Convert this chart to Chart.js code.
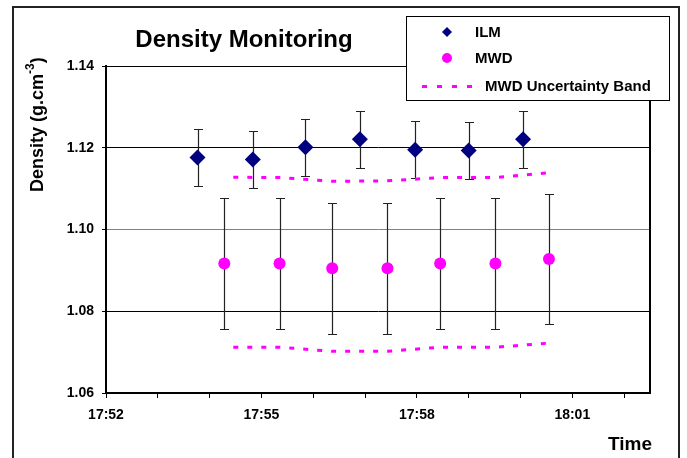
<!DOCTYPE html>
<html>
<head>
<meta charset="utf-8">
<script src="https://cdn.jsdelivr.net/npm/chart.js@4/dist/chart.umd.min.js"></script>
<style>
  body { margin: 0; background: #fff; }
  canvas { display: block; }
</style>
</head>
<body>
<canvas id="densityChart" width="687" height="458"></canvas>
<script>
// readings (times)
var ilmTimes = ['17:53:46', '17:54:50', '17:55:51', '17:56:54', '17:57:58', '17:59:00', '18:00:03'];
var ilmDensity = [1.1176, 1.1171, 1.1201, 1.1221, 1.1195, 1.1193, 1.1221];
var ilmError = [0.007, 0.007, 0.007, 0.007, 0.007, 0.007, 0.007];

var mwdTimes = ['17:54:17', '17:55:21', '17:56:22', '17:57:26', '17:58:27', '17:59:31', '18:00:33'];
var mwdDensity = [1.0917, 1.0917, 1.0905, 1.0905, 1.0917, 1.0917, 1.0928];
var mwdError = [0.016, 0.016, 0.016, 0.016, 0.016, 0.016, 0.016];

var bandUpper = [1.1128, 1.1127, 1.1118, 1.1119, 1.1127, 1.1127, 1.1139];
var bandLower = [1.0712, 1.0712, 1.0702, 1.0702, 1.0712, 1.0712, 1.0722];

var yTicks = [1.06, 1.08, 1.10, 1.12, 1.14];
var xStart = '17:52', xEnd = '18:02:30';

var FONT = '"Liberation Sans", Arial, sans-serif';
var NAVY = '#000080', MAGENTA = '#ff00ff';

function toMinutes(t) {
    var p = t.split(':');
    return +p[0] * 60 + +p[1] + (p[2] ? +p[2] / 60 : 0);
}
function fmtTime(m) {
    var h = Math.floor(m / 60), mm = Math.round(m - h * 60);
    return h + ':' + (mm < 10 ? '0' : '') + mm;
}
function pts(times, vals) {
    return times.map(function(t, i) { return { x: toMinutes(t), y: vals[i] }; });
}

var errorBars = {
    id: 'errorBars',
    beforeDatasetsDraw: function(chart) {
        var ctx = chart.ctx, xs = chart.scales.x, ys = chart.scales.y;
        var sets = [[ilmTimes, ilmDensity, ilmError], [mwdTimes, mwdDensity, mwdError]];
        ctx.save();
        ctx.strokeStyle = '#222';
        ctx.lineWidth = 1.2;
        sets.forEach(function(s) {
            s[0].forEach(function(t, i) {
                var x = Math.round(xs.getPixelForValue(toMinutes(t))) + 0.5;
                var top = Math.round(ys.getPixelForValue(s[1][i] + s[2][i])) + 0.5;
                var bot = Math.round(ys.getPixelForValue(s[1][i] - s[2][i])) + 0.5;
                ctx.beginPath();
                ctx.moveTo(x, top); ctx.lineTo(x, bot);
                ctx.moveTo(x - 4.5, top); ctx.lineTo(x + 4.5, top);
                ctx.moveTo(x - 4.5, bot); ctx.lineTo(x + 4.5, bot);
                ctx.stroke();
            });
        });
        ctx.restore();
    }
};

var decorations = {
    id: 'decorations',
    beforeDraw: function(chart) {
        var ctx = chart.ctx;
        ctx.save();
        ctx.fillStyle = '#fff';
        ctx.fillRect(0, 0, chart.width, chart.height);
        ctx.restore();
    },
    afterDraw: function(chart) {
        var ctx = chart.ctx, a = chart.chartArea;
        ctx.save();
        // plot area border (top, right)
        ctx.strokeStyle = '#000';
        ctx.lineWidth = 1;
        ctx.beginPath();
        ctx.moveTo(a.left, a.top + 0.5); ctx.lineTo(a.right, a.top + 0.5);
        ctx.stroke();
        ctx.lineWidth = 2;
        ctx.beginPath();
        ctx.moveTo(a.right, a.top); ctx.lineTo(a.right, a.bottom);
        ctx.stroke();

        // outer frame
        ctx.strokeStyle = '#222';
        ctx.lineWidth = 2;
        ctx.strokeRect(13, 7, 666, 470);

        // title
        ctx.fillStyle = '#000';
        ctx.font = 'bold 24px ' + FONT;
        ctx.textAlign = 'center';
        ctx.textBaseline = 'alphabetic';
        ctx.fillText('Density Monitoring', 244, 47);

        // x title
        ctx.font = 'bold 19px ' + FONT;
        ctx.textAlign = 'right';
        ctx.fillText('Time', 652, 450);

        // y title with superscript
        ctx.save();
        ctx.translate(43, 192);
        ctx.rotate(-Math.PI / 2);
        ctx.textAlign = 'left';
        ctx.font = 'bold 18px ' + FONT;
        var s1 = 'Density (g.cm';
        ctx.fillText(s1, 0, 0);
        var w = ctx.measureText(s1).width;
        ctx.font = 'bold 12px ' + FONT;
        ctx.fillText('-3', w, -9);
        w += ctx.measureText('-3').width;
        ctx.font = 'bold 18px ' + FONT;
        ctx.fillText(')', w, 0);
        ctx.restore();

        // legend
        ctx.fillStyle = '#fff';
        ctx.fillRect(406, 16, 263, 84);
        ctx.strokeStyle = '#000';
        ctx.lineWidth = 1;
        ctx.strokeRect(406.5, 16.5, 263, 84);
        ctx.fillStyle = NAVY;
        ctx.beginPath();
        ctx.moveTo(447, 27); ctx.lineTo(452, 32); ctx.lineTo(447, 37); ctx.lineTo(442, 32);
        ctx.closePath();
        ctx.fill();
        ctx.fillStyle = MAGENTA;
        ctx.beginPath();
        ctx.arc(447, 58, 5, 0, Math.PI * 2);
        ctx.fill();
        ctx.strokeStyle = MAGENTA;
        ctx.lineWidth = 3;
        ctx.setLineDash([5, 10]);
        ctx.beginPath();
        ctx.moveTo(422, 86.5); ctx.lineTo(472, 86.5);
        ctx.stroke();
        ctx.setLineDash([]);
        ctx.fillStyle = '#000';
        ctx.font = 'bold 15px ' + FONT;
        ctx.textAlign = 'left';
        ctx.fillText('ILM', 475, 37);
        ctx.fillText('MWD', 475, 63);
        ctx.fillText('MWD Uncertainty Band', 485, 91);
        ctx.restore();
    }
};

new Chart(document.getElementById('densityChart').getContext('2d'), {
    type: 'scatter',
    data: {
        datasets: [
            {
                label: 'ILM',
                data: pts(ilmTimes, ilmDensity),
                pointStyle: 'rectRot',
                pointRadius: 8,
                backgroundColor: NAVY,
                borderColor: NAVY,
                borderWidth: 0
            },
            {
                label: 'MWD',
                data: pts(mwdTimes, mwdDensity),
                pointStyle: 'circle',
                pointRadius: 6,
                backgroundColor: MAGENTA,
                borderColor: MAGENTA,
                borderWidth: 0
            },
            {
                label: 'MWD Uncertainty Band',
                data: pts(mwdTimes, bandUpper),
                showLine: true,
                pointRadius: 0,
                borderColor: MAGENTA,
                borderWidth: 3,
                borderDash: [5, 9],
                borderDashOffset: 5
            },
            {
                label: 'MWD Uncertainty Band (lower)',
                data: pts(mwdTimes, bandLower),
                showLine: true,
                pointRadius: 0,
                borderColor: MAGENTA,
                borderWidth: 3,
                borderDash: [5, 9],
                borderDashOffset: 5
            }
        ]
    },
    options: {
        responsive: false,
        animation: false,
        layout: { padding: { top: 66, right: 37, left: 0, bottom: 0 } },
        plugins: {
            legend: { display: false },
            title: { display: false },
            tooltip: { enabled: false }
        },
        scales: {
            x: {
                type: 'linear',
                min: toMinutes(xStart),
                max: toMinutes(xEnd),
                afterFit: function(scale) { scale.height = 65; },
                border: { display: true, color: '#000', width: 2 },
                grid: { drawOnChartArea: false, drawTicks: true, tickLength: 5, tickColor: '#000' },
                ticks: {
                    stepSize: 1,
                    includeBounds: false,
                    autoSkip: false,
                    maxRotation: 0,
                    padding: 9,
                    color: '#000',
                    font: { family: FONT, size: 14, weight: 'bold' },
                    callback: function(v) {
                        return (Math.round(v - toMinutes(xStart)) % 3 === 0) ? fmtTime(v) : '';
                    }
                }
            },
            y: {
                min: yTicks[0],
                max: yTicks[yTicks.length - 1],
                afterFit: function(scale) { scale.width = 106; },
                afterBuildTicks: function(scale) {
                    scale.ticks = yTicks.map(function(v) { return { value: v }; });
                },
                border: { display: true, color: '#000', width: 2 },
                grid: {
                    color: function(c) {
                        return (c.tick && Math.abs(c.tick.value - 1.10) < 1e-6) ? '#808080' : '#000';
                    },
                    tickLength: 4,
                    tickColor: '#000'
                },
                ticks: {
                    padding: 8,
                    color: '#000',
                    font: { family: FONT, size: 14, weight: 'bold' },
                    callback: function(v) { return v.toFixed(2); }
                }
            }
        }
    },
    plugins: [decorations, errorBars]
});
</script>
</body>
</html>
